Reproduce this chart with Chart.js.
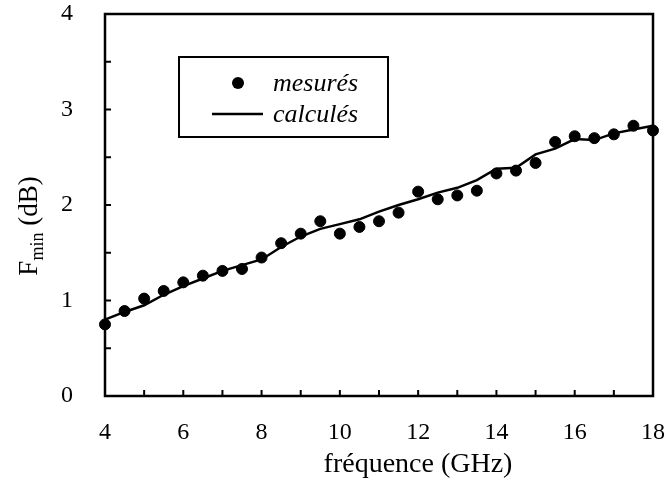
<!DOCTYPE html>
<html>
<head>
<meta charset="utf-8">
<script src="https://cdn.jsdelivr.net/npm/chart.js@4/dist/chart.umd.min.js"></script>
<style>
    html, body { margin: 0; padding: 0; background: #fff; }
    #wrap { width: 670px; height: 488px; }
</style>
</head>
<body>
<div id="wrap"><canvas id="chart"></canvas></div>
<script>
const frequencies = [4, 4.5, 5, 5.5, 6, 6.5, 7, 7.5, 8, 8.5, 9, 9.5, 10, 10.5, 11, 11.5, 12, 12.5, 13, 13.5, 14, 14.5, 15, 15.5, 16, 16.5, 17, 17.5, 18];
const measured = [0.75, 0.89, 1.02, 1.10, 1.19, 1.26, 1.31, 1.33, 1.45, 1.60, 1.70, 1.83, 1.70, 1.77, 1.83, 1.92, 2.14, 2.06, 2.10, 2.15, 2.33, 2.36, 2.44, 2.66, 2.72, 2.70, 2.74, 2.83, 2.78];
const calculated = [0.80, 0.88, 0.95, 1.06, 1.15, 1.23, 1.31, 1.37, 1.43, 1.56, 1.67, 1.75, 1.80, 1.85, 1.93, 2.00, 2.06, 2.13, 2.18, 2.26, 2.38, 2.39, 2.53, 2.59, 2.69, 2.68, 2.75, 2.79, 2.83];
const seriesLabels = ['mesurés', 'calculés'];
const xTitle = 'fréquence (GHz)';

const serif = '"Liberation Serif", "Times New Roman", serif';

function toPoints(values) {
    return frequencies.map((f, i) => ({ x: f, y: values[i] }));
}

// keep the plot box where the original has it, ignore label overhang
function fixScale(scale, size) {
    if (scale.isHorizontal()) {
        scale.height = size;
    } else {
        scale.width = size;
    }
    scale.paddingTop = 0;
    scale.paddingBottom = 0;
    scale.paddingLeft = 0;
    scale.paddingRight = 0;
}

// frame + inward ticks, like the original plot
const framePlugin = {
    id: 'frame',
    afterDraw(chart) {
        const ctx = chart.ctx;
        const area = chart.chartArea;
        const xs = chart.scales.x;
        const ys = chart.scales.y;
        ctx.save();
        ctx.strokeStyle = '#000';
        ctx.lineWidth = 2;
        xs.ticks.forEach(t => {
            const px = xs.getPixelForValue(t.value);
            ctx.beginPath();
            ctx.moveTo(px, area.bottom);
            ctx.lineTo(px, area.bottom - 6);
            ctx.stroke();
        });
        ys.ticks.forEach(t => {
            const py = ys.getPixelForValue(t.value);
            ctx.beginPath();
            ctx.moveTo(area.left, py);
            ctx.lineTo(area.left + 6, py);
            ctx.stroke();
        });
        ctx.lineWidth = 2.5;
        ctx.strokeRect(area.left, area.top, area.right - area.left, area.bottom - area.top);
        ctx.restore();
    }
};

// axis titles (y one has a subscript) and the boxed legend
const textPlugin = {
    id: 'texts',
    afterDraw(chart) {
        const ctx = chart.ctx;
        const area = chart.chartArea;
        ctx.save();
        ctx.fillStyle = '#000';
        ctx.textBaseline = 'alphabetic';

        ctx.font = '28px ' + serif;
        ctx.textAlign = 'center';
        ctx.fillText(xTitle, area.left + 313, 472);

        // y title, rotated
        ctx.save();
        ctx.translate(37, 226);
        ctx.rotate(-Math.PI / 2);
        const big = '27px ' + serif;
        const small = '18px ' + serif;
        ctx.font = big;
        const wF = ctx.measureText('F').width;
        const wRest = ctx.measureText(' (dB)').width;
        ctx.font = small;
        const wSub = ctx.measureText('min').width;
        let x0 = -(wF + wSub + wRest) / 2;
        ctx.textAlign = 'left';
        ctx.font = big;
        ctx.fillText('F', x0, 0);
        ctx.font = small;
        ctx.fillText('min', x0 + wF, 6);
        ctx.font = big;
        ctx.fillText(' (dB)', x0 + wF + wSub, 0);
        ctx.restore();

        // legend box
        ctx.lineWidth = 2;
        ctx.strokeStyle = '#000';
        ctx.strokeRect(179, 57, 209, 80);
        ctx.beginPath();
        ctx.arc(238, 83, 6, 0, Math.PI * 2);
        ctx.fill();
        ctx.lineWidth = 2.5;
        ctx.beginPath();
        ctx.moveTo(212, 114);
        ctx.lineTo(263, 114);
        ctx.stroke();
        ctx.font = 'italic 26px ' + serif;
        ctx.textAlign = 'left';
        ctx.fillText(chart.data.datasets[0].label, 273, 91);
        ctx.fillText(chart.data.datasets[1].label, 273, 122);
        ctx.restore();
    }
};

function createChart(ctx) {
    const chartOptions = {
        type: 'scatter',
        data: {
            datasets: [
                {
                    label: seriesLabels[0],
                    data: toPoints(measured),
                    backgroundColor: '#000',
                    borderColor: '#000',
                    pointRadius: 5.5,
                    pointHoverRadius: 5.5,
                    clip: false
                },
                {
                    label: seriesLabels[1],
                    data: toPoints(calculated),
                    showLine: true,
                    borderColor: '#000',
                    borderWidth: 2.5,
                    pointRadius: 0,
                    tension: 0
                }
            ]
        },
        options: {
            animation: false,
            responsive: true,
            maintainAspectRatio: false,
            layout: {
                padding: { top: 14, right: 17, left: 0, bottom: 0 }
            },
            scales: {
                x: {
                    type: 'linear',
                    min: 4,
                    max: 18,
                    grid: { display: false, drawTicks: false },
                    border: { display: false },
                    ticks: {
                        stepSize: 1,
                        padding: 22,
                        color: '#000',
                        font: { family: serif, size: 24 },
                        maxRotation: 0,
                        autoSkip: false,
                        callback: v => (v % 2 === 0 ? v : '')
                    },
                    afterFit: scale => fixScale(scale, 92)
                },
                y: {
                    min: 0,
                    max: 4,
                    grid: { display: false, drawTicks: false },
                    border: { display: false },
                    ticks: {
                        stepSize: 0.5,
                        padding: 32,
                        color: '#000',
                        font: { family: serif, size: 24 },
                        autoSkip: false,
                        callback: v => (v % 1 === 0 ? v : '')
                    },
                    afterFit: scale => fixScale(scale, 105)
                }
            },
            plugins: {
                legend: { display: false },
                tooltip: { enabled: false }
            }
        },
        plugins: [framePlugin, textPlugin]
    };
    return new Chart(ctx, chartOptions);
}

createChart(document.getElementById('chart'));
</script>
</body>
</html>
